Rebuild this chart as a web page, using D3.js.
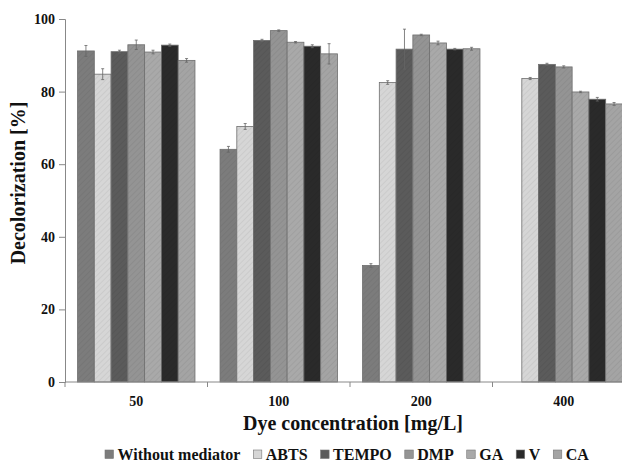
<html>
<head>
<style>
  body { margin: 0; background: #fff; }
  svg { display: block; font-family: "Liberation Serif", "Times New Roman", serif; font-weight: bold; }
</style>
<script src="https://d3js.org/d3.v7.min.js"></script>
</head>
<body>
<svg id="chart"></svg>
<script>
// chart data
let categories = ["50", "100", "200", "400"];
let seriesNames = ["Without mediator", "ABTS", "TEMPO", "DMP", "GA", "V", "CA"];
let withoutMediator = [91.2, 64.1, 32.1, 0];
let abts = [84.8, 70.4, 82.5, 83.6];
let tempo = [91.0, 94.1, 91.7, 87.5];
let dmp = [92.9, 96.8, 95.6, 86.8];
let ga = [90.9, 93.6, 93.4, 79.9];
let v = [92.8, 92.5, 91.7, 77.9];
let ca = [88.6, 90.4, 91.8, 76.6];
let errWithout = [1.5, 0.8, 0.5, 0];
let errAbts = [1.5, 0.8, 0.5, 0.3];
let errTempo = [0.4, 0.3, 5.5, 0.3];
let errDmp = [1.3, 0.2, 0.2, 0.3];
let errGa = [0.5, 0.2, 0.5, 0.2];
let errV = [0.3, 0.4, 0.2, 0.5];
let errCa = [0.5, 2.8, 0.4, 0.4];
let yTicks = [0, 20, 40, 60, 80, 100];

let seriesValues = [withoutMediator, abts, tempo, dmp, ga, v, ca];
let seriesErrors = [errWithout, errAbts, errTempo, errDmp, errGa, errV, errCa];
let colors = ["#7c7c7c", "#d6d6d6", "#5b5b5b", "#949494", "#a9a9a9", "#2a2a2a", "#a4a4a4"];

let width = 622, height = 465;
let margin = {left: 65, top: 19, bottom: 83};
let plotRight = 635;

let svg = d3.select("#chart").attr("width", width).attr("height", height);

// textures
let defs = svg.append("defs");
seriesNames.forEach((name, i) => {
  let p = defs.append("pattern")
    .attr("id", "pat" + i)
    .attr("patternUnits", "userSpaceOnUse")
    .attr("width", 4).attr("height", 4)
    .attr("patternTransform", "rotate(45)");
  p.append("rect").attr("width", 4).attr("height", 4).attr("fill", colors[i]);
  p.append("rect").attr("width", 1).attr("height", 4)
    .attr("fill", d3.color(colors[i]).darker(0.15));
});

let x0 = d3.scaleBand()
  .domain(categories)
  .range([margin.left, plotRight])
  .paddingInner(0.176)
  .paddingOuter(0.088);

let x1 = d3.scaleBand()
  .domain(seriesNames)
  .range([0, x0.bandwidth()]);

let y = d3.scaleLinear()
  .domain([0, 100])
  .range([height - margin.bottom, margin.top]);

// bars
let groups = svg.append("g").selectAll("g")
  .data(categories)
  .join("g")
  .attr("transform", d => `translate(${x0(d)},0)`);

groups.selectAll("rect")
  .data((c, ci) => seriesNames.map((s, si) => ({s, si, val: seriesValues[si][ci], err: seriesErrors[si][ci]})))
  .join("rect")
  .filter(d => d.val > 0)
  .attr("x", d => x1(d.s))
  .attr("y", d => y(d.val))
  .attr("width", x1.bandwidth())
  .attr("height", d => y(0) - y(d.val))
  .attr("fill", d => `url(#pat${d.si})`)
  .attr("stroke", "#6e6e6e")
  .attr("stroke-width", 0.8);

// error bars
let errs = groups.selectAll("g.err")
  .data((c, ci) => seriesNames.map((s, si) => ({s, si, val: seriesValues[si][ci], err: seriesErrors[si][ci]}))
    .filter(d => d.val > 0))
  .join("g").attr("class", "err")
  .attr("stroke", "#666").attr("stroke-width", 0.8);

errs.append("line")
  .attr("x1", d => x1(d.s) + x1.bandwidth() / 2)
  .attr("x2", d => x1(d.s) + x1.bandwidth() / 2)
  .attr("y1", d => y(d.val - d.err))
  .attr("y2", d => y(d.val + d.err));
errs.append("line")
  .attr("x1", d => x1(d.s) + x1.bandwidth() / 2 - 1.5)
  .attr("x2", d => x1(d.s) + x1.bandwidth() / 2 + 1.5)
  .attr("y1", d => y(d.val + d.err))
  .attr("y2", d => y(d.val + d.err));
errs.append("line")
  .attr("x1", d => x1(d.s) + x1.bandwidth() / 2 - 1.5)
  .attr("x2", d => x1(d.s) + x1.bandwidth() / 2 + 1.5)
  .attr("y1", d => y(d.val - d.err))
  .attr("y2", d => y(d.val - d.err));

// y axis
let yAxis = svg.append("g")
  .attr("transform", `translate(${margin.left},0)`)
  .call(d3.axisLeft(y).tickValues(yTicks).tickSize(6).tickPadding(4));
yAxis.select(".domain").attr("stroke", "#888");
yAxis.selectAll(".tick line").attr("stroke", "#888");
yAxis.selectAll(".tick text")
  .attr("font-family", "Liberation Serif").attr("font-weight", "bold")
  .attr("font-size", 14).attr("fill", "#111");

// x axis
let xAxisG = svg.append("g").attr("transform", `translate(0,${y(0)})`);
xAxisG.append("line")
  .attr("x1", margin.left).attr("x2", plotRight)
  .attr("stroke", "#888");
let boundaries = categories.map(c => x0(c) - x0.step() * x0.paddingInner() / 2);
boundaries[0] = margin.left;
xAxisG.selectAll("line.tk")
  .data(boundaries.concat([plotRight]))
  .join("line").attr("class", "tk")
  .attr("x1", d => d).attr("x2", d => d)
  .attr("y1", 0).attr("y2", 5)
  .attr("stroke", "#888");
xAxisG.selectAll("text")
  .data(categories)
  .join("text")
  .attr("x", d => x0(d) + x0.bandwidth() / 2)
  .attr("y", 24)
  .attr("text-anchor", "middle")
  .attr("font-size", 14)
  .attr("fill", "#111")
  .text(d => d);

// titles
svg.append("text")
  .attr("x", 353).attr("y", 430)
  .attr("text-anchor", "middle")
  .attr("font-size", 20).attr("fill", "#111")
  .text("Dye concentration [mg/L]");

svg.append("text")
  .attr("transform", "translate(25,183) rotate(-90)")
  .attr("text-anchor", "middle")
  .attr("font-size", 20).attr("fill", "#111")
  .text("Decolorization [%]");

// legend
let legend = svg.append("g").attr("transform", "translate(105,460)");
let lx = 0;
seriesNames.forEach((name, i) => {
  let item = legend.append("g").attr("transform", `translate(${lx},0)`);
  item.append("rect")
    .attr("x", 0).attr("y", -10)
    .attr("width", 8.5).attr("height", 8.5)
    .attr("fill", colors[i])
    .attr("stroke", "#777").attr("stroke-width", 0.6);
  let t = item.append("text")
    .attr("x", 12.5).attr("y", 0)
    .attr("font-size", 16).attr("fill", "#111")
    .text(name);
  lx += 12.5 + t.node().getComputedTextLength() + 13;
});
</script>
</body>
</html>
